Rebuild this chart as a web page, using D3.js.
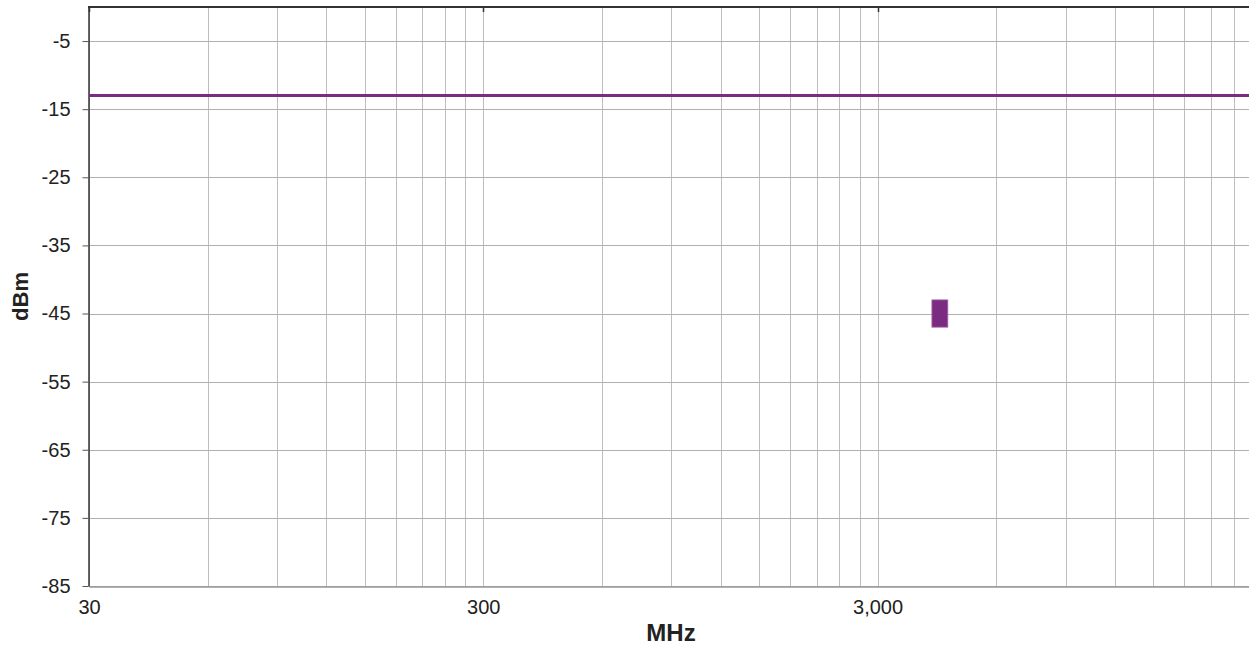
<!DOCTYPE html>
<html>
<head>
<meta charset="utf-8">
<script src="https://cdn.jsdelivr.net/npm/d3@7"></script>
<style>
  body { margin: 0; background: #fff; }
  text { font-family: "Liberation Sans", Arial, sans-serif; }
</style>
</head>
<body>
<div id="chart"></div>
<script>
// axis data
const xTickLabels = [30, 300, 3000];
const xGridValues = [30, 60, 90, 120, 150, 180, 210, 240, 270, 300,
  600, 900, 1200, 1500, 1800, 2100, 2400, 2700, 3000,
  6000, 9000, 12000, 15000, 18000, 21000, 24000];
const yTickValues = [-5, -15, -25, -35, -45, -55, -65, -75, -85];

// limit line (dBm) across the whole span
const limitFreq = [30, 27000];
const limitLevel = [-13, -13];

// measured emission block: frequency span and level span
const blockFreq = [4120, 4520];
const blockLevel = [-43, -47];

const margin = {top: 7, left: 89, bottom: 60, right: 0},
    width = 1249 - margin.left - margin.right,
    height = 586 - margin.top;

const svg = d3.select("#chart")
    .append("svg")
        .attr("width", 1249)
        .attr("height", 646)
    .append("g")
        .attr("transform", "translate(" + margin.left + "," + margin.top + ")");

// one decade is about 394 px
const xScale = d3.scaleLog().domain([30, 30 * Math.pow(10, width / 394.3)]).range([0, width]);
const yScale = d3.scaleLinear().domain([-85, 0]).range([height, 0]);

// grid
svg.append("g")
    .selectAll("line")
    .data(xGridValues)
    .join("line")
        .attr("x1", d => Math.round(xScale(d)) + 0.5)
        .attr("x2", d => Math.round(xScale(d)) + 0.5)
        .attr("y1", 0)
        .attr("y2", height)
        .style("stroke", "#bdbdbd")
        .style("stroke-width", 1);

svg.append("g")
    .selectAll("line")
    .data(yTickValues)
    .join("line")
        .attr("x1", 0)
        .attr("x2", width)
        .attr("y1", d => Math.round(yScale(d)) + 0.5)
        .attr("y2", d => Math.round(yScale(d)) + 0.5)
        .style("stroke", "#b0b0b0")
        .style("stroke-width", 1);

// bottom axis
const xAxis = svg.append("g")
    .attr("transform", "translate(0," + (height + 0.5) + ")")
    .call(d3.axisBottom(xScale)
        .tickValues(xTickLabels)
        .tickSize(0)
        .tickPadding(13)
        .tickFormat(d3.format(",")));
xAxis.select(".domain").style("stroke", "#999999").style("stroke-width", 1.5);
xAxis.selectAll("text").style("font-size", "20px").style("fill", "#222");

// left axis (plain hyphen for the minus sign)
const yAxis = svg.append("g")
    .attr("transform", "translate(-0.5,0)")
    .call(d3.axisLeft(yScale)
        .tickValues(yTickValues)
        .tickSize(6)
        .tickSizeOuter(0)
        .tickPadding(12)
        .tickFormat(d => String(d)));
yAxis.select(".domain").style("stroke", "#333").style("stroke-width", 1.5);
yAxis.selectAll(".tick line").style("stroke", "#555");
yAxis.selectAll("text").style("font-size", "20px").style("fill", "#222");

// top border with small decade ticks
svg.append("line")
    .attr("x1", -1).attr("x2", width)
    .attr("y1", 0).attr("y2", 0)
    .style("stroke", "#333").style("stroke-width", 2);
svg.append("g")
    .selectAll("line")
    .data(xTickLabels)
    .join("line")
        .attr("x1", d => Math.round(xScale(d)) + 0.5)
        .attr("x2", d => Math.round(xScale(d)) + 0.5)
        .attr("y1", 0)
        .attr("y2", 5)
        .style("stroke", "#333")
        .style("stroke-width", 1.5);

// limit line
const limitData = limitFreq.map((f, i) => ({f: f, v: limitLevel[i]}));
svg.append("path")
    .datum(limitData)
    .attr("d", d3.line().x(d => xScale(d.f)).y(d => yScale(d.v)))
    .style("fill", "none")
    .style("stroke", "#7b2c80")
    .style("stroke-width", 3);

// emission block
svg.append("rect")
    .attr("x", xScale(blockFreq[0]))
    .attr("y", yScale(blockLevel[0]))
    .attr("width", xScale(blockFreq[1]) - xScale(blockFreq[0]))
    .attr("height", yScale(blockLevel[1]) - yScale(blockLevel[0]))
    .style("fill", "#7b2c80")
    .style("stroke", "#a060a8")
    .style("stroke-width", 0.8);

// axis titles
svg.append("text")
    .attr("x", 582)
    .attr("y", 634)
    .style("text-anchor", "middle")
    .style("font-size", "24px")
    .style("font-weight", "bold")
    .style("fill", "#222")
    .text("MHz");

svg.append("text")
    .attr("transform", "rotate(-90)")
    .attr("x", -height / 2)
    .attr("y", -61)
    .style("text-anchor", "middle")
    .style("font-size", "22px")
    .style("font-weight", "bold")
    .style("fill", "#222")
    .text("dBm");
</script>
</body>
</html>
